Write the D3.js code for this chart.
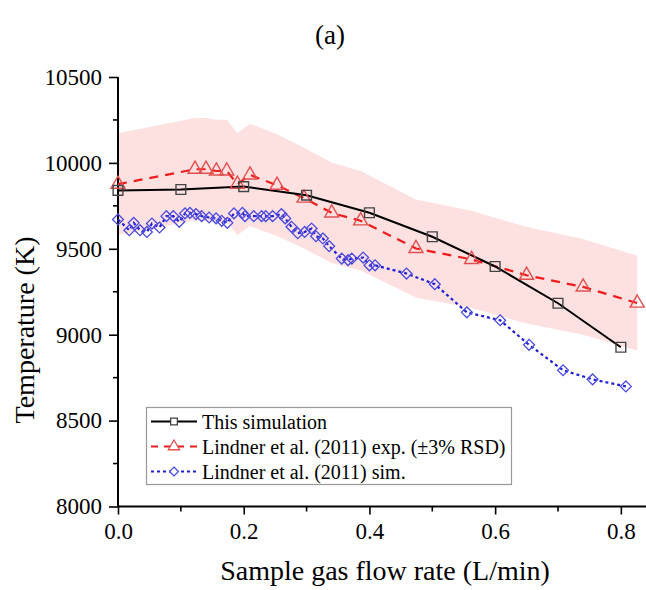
<!DOCTYPE html>
<html>
<head>
<meta charset="utf-8">
<script src="https://cdn.jsdelivr.net/npm/d3@7"></script>
<style>
  html, body { margin: 0; padding: 0; background: #fff; }
  svg { display: block; }
  svg text { font-family: "Liberation Serif", "Times New Roman", serif; }
</style>
</head>
<body>
<div id="chart"></div>
<script>
// This simulation
const simX = [0, 0.1, 0.2, 0.3, 0.4, 0.5, 0.6, 0.7, 0.8];
const simY = [9840, 9845, 9862, 9812, 9710, 9570, 9397, 9183, 8927];

// Lindner et al. (2011) exp.
const expX = [0, 0.1225, 0.14, 0.1565, 0.173, 0.19, 0.21, 0.253, 0.296, 0.34, 0.386, 0.474, 0.5625, 0.65, 0.74, 0.826];
const expY = [9876, 9963, 9963, 9953, 9953, 9876, 9930, 9870, 9795, 9709, 9663, 9502, 9438, 9346, 9278, 9184];
const rsd = 0.03;

// Lindner et al. (2011) sim.
const linX = [0, 0.018, 0.025, 0.035, 0.046, 0.054, 0.066, 0.077, 0.088, 0.0975, 0.1066, 0.1145, 0.124, 0.133,
  0.145, 0.156, 0.165, 0.174, 0.1845, 0.198, 0.202, 0.216, 0.2285, 0.235, 0.246, 0.26, 0.266, 0.276, 0.286,
  0.297, 0.308, 0.315, 0.326, 0.336, 0.356, 0.366, 0.372, 0.39, 0.4, 0.409, 0.459, 0.504, 0.555, 0.608,
  0.654, 0.708, 0.755, 0.808];
const linY = [9671, 9608, 9651, 9608, 9598, 9647, 9624, 9690, 9690, 9657, 9706, 9709, 9702, 9690,
  9682, 9677, 9663, 9651, 9706, 9709, 9690, 9690, 9690, 9690, 9690, 9702, 9677, 9628, 9591,
  9598, 9618, 9573, 9560, 9515, 9443, 9434, 9443, 9449, 9404, 9404, 9356, 9294, 9130, 9084,
  8941, 8793, 8740, 8699];

const xTicks = [0, 0.2, 0.4, 0.6, 0.8];
const xMinor = [0.1, 0.3, 0.5, 0.7];
const yTicks = [8000, 8500, 9000, 9500, 10000, 10500];
const yMinor = [8250, 8750, 9250, 9750, 10250];

const legendLabels = ["This simulation", "Lindner et al. (2011) exp. (\u00b13% RSD)", "Lindner et al. (2011) sim."];

const W = 646, H = 590;
const FONT = "Liberation Serif";

const svg = d3.select("#chart").append("svg")
  .attr("width", W).attr("height", H)
  .attr("font-family", FONT);

svg.append("rect").attr("width", W).attr("height", H).attr("fill", "#fff");

const x = d3.scaleLinear().domain([0, 0.84]).range([118, 646]);
const y = d3.scaleLinear().domain([8000, 10500]).range([506.5, 77]);

const zip = (xs, ys) => xs.map((v, i) => ({ x: v, y: ys[i] }));
const simData = zip(simX, simY);
const expData = zip(expX, expY);
const linData = zip(linX, linY);

// band ±3% RSD
svg.append("path")
  .datum(expData)
  .attr("fill", "#fde0e0")
  .attr("d", d3.area()
    .x(d => x(d.x))
    .y0(d => y(d.y * (1 - rsd)))
    .y1(d => y(d.y * (1 + rsd))));

// axes
const gx = svg.append("g").attr("transform", `translate(0,${y(8000)})`);
gx.call(d3.axisBottom(x).tickValues(xTicks).tickSize(8).tickPadding(8).tickFormat(d3.format(".1f")));
gx.append("g").selectAll("line").data(xMinor).join("line")
  .attr("x1", d => x(d)).attr("x2", d => x(d)).attr("y1", 0).attr("y2", 5)
  .attr("stroke", "#000").attr("stroke-width", 1.6);

const gy = svg.append("g").attr("transform", `translate(${x(0)},0)`);
gy.call(d3.axisLeft(y).tickValues(yTicks).tickSize(9).tickPadding(7).tickFormat(d3.format("d")));
gy.append("g").selectAll("line").data(yMinor).join("line")
  .attr("y1", d => y(d)).attr("y2", d => y(d)).attr("x1", 0).attr("x2", -5)
  .attr("stroke", "#000").attr("stroke-width", 1.6);

[gx, gy].forEach(g => {
  g.attr("font-family", FONT).attr("font-size", 23);
  g.select(".domain").attr("stroke", "#000").attr("stroke-width", 2).attr("d",
    g === gx ? `M${x(0)},0H${W}` : `M0,${y(8000)}V${y(10500)}`);
  g.selectAll(".tick line").attr("stroke", "#000").attr("stroke-width", 1.6);
  g.selectAll(".tick text").attr("fill", "#000");
});

// series lines
const line = d3.line().x(d => x(d.x)).y(d => y(d.y));

svg.append("path").datum(linData).attr("d", line)
  .attr("fill", "none").attr("stroke", "#1f1fd6").attr("stroke-width", 2.2)
  .attr("stroke-dasharray", "3,3");

svg.append("path").datum(expData).attr("d", line)
  .attr("fill", "none").attr("stroke", "#ee1c1c").attr("stroke-width", 2.2)
  .attr("stroke-dasharray", "9,7");

svg.append("path").datum(simData).attr("d", line)
  .attr("fill", "none").attr("stroke", "#000").attr("stroke-width", 2);

// markers
const sym = {
  square: d3.symbol().type(d3.symbolSquare),
  triangle: d3.symbol().type(d3.symbolTriangle),
  diamond: d3.symbol().type(d3.symbolDiamond2)
};

svg.append("g").selectAll("path").data(linData).join("path")
  .attr("transform", d => `translate(${x(d.x)},${y(d.y)})`)
  .attr("d", sym.diamond.size(75)())
  .attr("fill", "none").attr("stroke", "#4a4ae0").attr("stroke-width", 1.3);

svg.append("g").selectAll("path").data(expData).join("path")
  .attr("transform", d => `translate(${x(d.x)},${y(d.y)})`)
  .attr("d", sym.triangle.size(85)())
  .attr("fill", "none").attr("stroke", "#e05050").attr("stroke-width", 1.4);

svg.append("g").selectAll("path").data(simData).join("path")
  .attr("transform", d => `translate(${x(d.x)},${y(d.y)})`)
  .attr("d", sym.square.size(95)())
  .attr("fill", "none").attr("stroke", "#444").attr("stroke-width", 1.4);

// legend
const lg = svg.append("g");
lg.append("rect").attr("x", 146.5).attr("y", 407.5).attr("width", 365).attr("height", 77)
  .attr("fill", "#fff").attr("stroke", "#999").attr("stroke-width", 1.2);

const legendStyle = [
  { stroke: "#000", dash: null, mk: sym.square.size(45), mkStroke: "#444" },
  { stroke: "#ee1c1c", dash: "7,6", mk: sym.triangle.size(55), mkStroke: "#e05050" },
  { stroke: "#1f1fd6", dash: "3,3", mk: sym.diamond.size(50), mkStroke: "#4a4ae0" }
];
legendLabels.forEach((lab, i) => {
  const yy = 421.5 + i * 25;
  const st = legendStyle[i];
  lg.append("line").attr("x1", 151).attr("x2", 197).attr("y1", yy).attr("y2", yy)
    .attr("stroke", st.stroke).attr("stroke-width", 2).attr("stroke-dasharray", st.dash);
  lg.append("path").attr("transform", `translate(174,${yy})`).attr("d", st.mk())
    .attr("fill", "#fff").attr("stroke", st.mkStroke).attr("stroke-width", 1.3);
  lg.append("text").attr("x", 202).attr("y", yy + 7).attr("font-size", 20).attr("fill", "#000").text(lab);
});

// titles
svg.append("text").attr("x", 330).attr("y", 44).attr("text-anchor", "middle")
  .attr("font-size", 27).attr("fill", "#000").text("(a)");

svg.append("text").attr("x", 385).attr("y", 580).attr("text-anchor", "middle")
  .attr("font-size", 28).attr("fill", "#000").text("Sample gas flow rate (L/min)");

svg.append("text").attr("transform", "translate(34,330) rotate(-90)").attr("text-anchor", "middle")
  .attr("font-size", 28).attr("fill", "#000").text("Temperature (K)");
</script>
</body>
</html>
